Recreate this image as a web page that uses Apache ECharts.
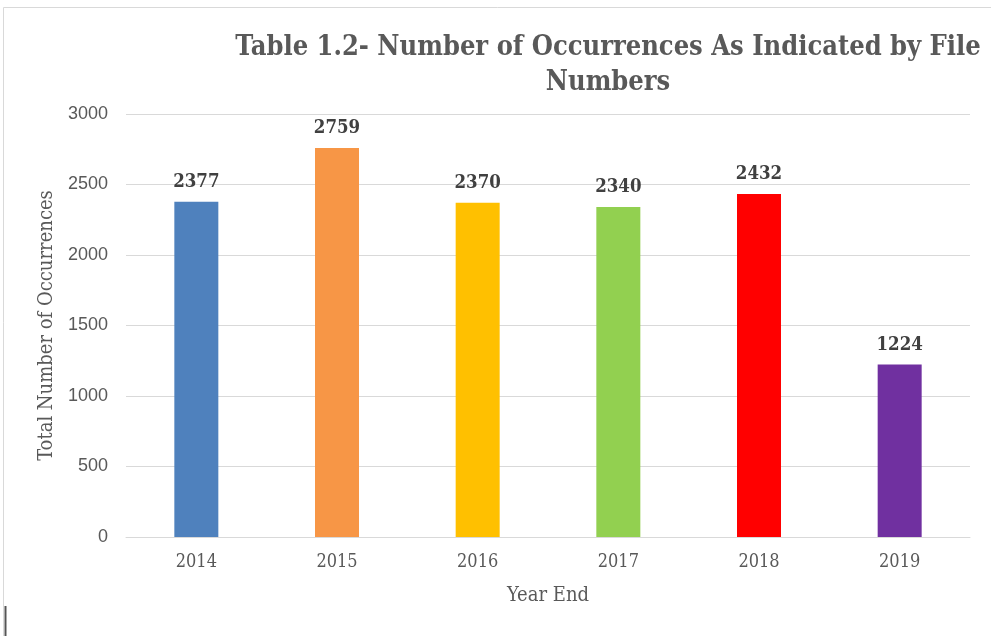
<!DOCTYPE html>
<html>
<head>
<meta charset="utf-8">
<script src="https://cdn.jsdelivr.net/npm/echarts@6/dist/echarts.min.js"></script>
<style>
  html, body { margin: 0; padding: 0; background: #fff; }
  #chart { width: 991px; height: 636px; }
</style>
</head>
<body>
<div id="chart"></div>
<script>
  // data
  var years = ['2014', '2015', '2016', '2017', '2018', '2019'];
  var occurrences = [2377, 2759, 2370, 2340, 2432, 1224];
  var barColors = ['#4f81bd', '#f79646', '#ffc000', '#92d050', '#ff0000', '#7030a0'];
  var yTicks = [0, 500, 1000, 1500, 2000, 2500, 3000];

  var serif = '"DejaVu Serif Condensed", "DejaVu Serif", serif';
  var gray = '#595959';

  var chart = echarts.init(document.getElementById('chart'));
  chart.setOption({
    animation: false,
    title: {
      text: 'Table 1.2- Number of Occurrences As Indicated by File\nNumbers',
      left: 608,
      top: 30,
      padding: 0,
      textAlign: 'center',
      textStyle: {
        fontFamily: serif,
        fontWeight: 'bold',
        fontSize: 27,
        lineHeight: 35,
        color: gray
      }
    },
    graphic: [
      {
        type: 'rect',
        shape: { x: 3.5, y: 7.5, width: 1000, height: 700 },
        style: { fill: 'none', stroke: '#d9d9d9', lineWidth: 1 },
        silent: true
      },
      {
        type: 'line',
        shape: { x1: 5.5, y1: 606, x2: 5.5, y2: 636 },
        style: { stroke: '#555', lineWidth: 2 },
        silent: true
      }
    ],
    grid: { left: 126, right: 21, top: 114, bottom: 99 },
    xAxis: {
      type: 'category',
      data: years,
      name: 'Year End',
      nameLocation: 'middle',
      nameGap: 49,
      nameTextStyle: { fontFamily: serif, fontSize: 20, color: gray },
      axisLine: { lineStyle: { color: '#d9d9d9', width: 1 } },
      axisTick: { show: false },
      axisLabel: { fontFamily: serif, fontSize: 18, color: gray, margin: 16 }
    },
    yAxis: {
      type: 'value',
      min: yTicks[0],
      max: yTicks[yTicks.length - 1],
      interval: 500,
      name: 'Total Number of Occurrences',
      nameLocation: 'middle',
      nameGap: 68,
      nameTextStyle: { fontFamily: serif, fontSize: 20, color: gray },
      axisLine: { show: false },
      axisTick: { show: false },
      axisLabel: {
        fontFamily: '"Liberation Sans", Arial, sans-serif',
        fontSize: 18,
        color: gray,
        margin: 18,
        formatter: function (v) { return String(v); }
      },
      splitLine: { lineStyle: { color: '#d9d9d9', width: 1 } }
    },
    series: [{
      type: 'bar',
      barWidth: 44,
      data: occurrences.map(function (v, i) {
        return { value: v, itemStyle: { color: barColors[i] } };
      }),
      label: {
        show: true,
        position: 'top',
        distance: 10,
        fontFamily: serif,
        fontWeight: 'bold',
        fontSize: 18.5,
        color: '#404040'
      }
    }]
  });
</script>
</body>
</html>
